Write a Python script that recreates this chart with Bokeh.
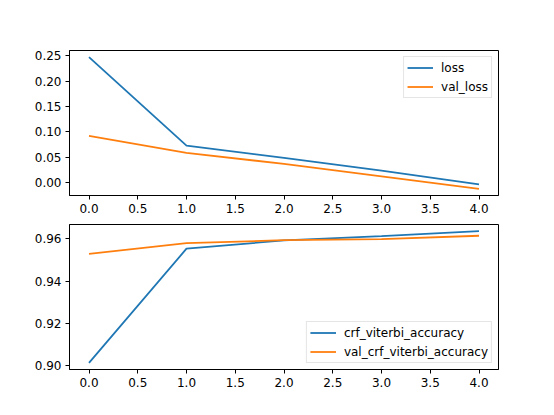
from bokeh.plotting import figure
from bokeh.layouts import column
from bokeh.models import Range1d, FixedTicker, NumeralTickFormatter, Legend, LegendItem
from bokeh.embed import file_html
from bokeh.resources import INLINE

# ---- data ----
epochs = [0, 1, 2, 3, 4]
loss = [0.247, 0.073, 0.049, 0.024, -0.003]
val_loss = [0.092, 0.059, 0.037, 0.0125, -0.012]
crf_viterbi_accuracy = [0.9014, 0.9553, 0.9592, 0.9612, 0.9636]
val_crf_viterbi_accuracy = [0.9528, 0.9579, 0.9593, 0.9598, 0.9614]

x_ticks = [0.0, 0.5, 1.0, 1.5, 2.0, 2.5, 3.0, 3.5, 4.0]
top_y_ticks = [0.00, 0.05, 0.10, 0.15, 0.20, 0.25]
bottom_y_ticks = [0.90, 0.92, 0.94, 0.96]

BLUE = "#1f77b4"
ORANGE = "#ff7f0e"
FONT = "DejaVu Sans"


def padded(*series):
    vals = [v for s in series for v in s]
    lo, hi = min(vals), max(vals)
    m = (hi - lo) * 0.05
    return Range1d(lo - m, hi + m)


def make_fig(ys, names, yticks, legend_loc, border_top, border_bottom):
    p = figure(frame_width=429, frame_height=145,
               min_border_left=69, min_border_right=47,
               min_border_top=border_top, min_border_bottom=border_bottom,
               x_range=padded(epochs), y_range=padded(*ys),
               output_backend="svg", toolbar_location=None)
    p.xgrid.visible = False
    p.ygrid.visible = False
    p.outline_line_color = "black"
    p.outline_line_alpha = 1
    p.outline_line_width = 1
    p.background_fill_color = "white"
    p.border_fill_color = "white"

    p.xaxis.ticker = FixedTicker(ticks=x_ticks)
    p.xaxis.formatter = NumeralTickFormatter(format="0.0")
    p.yaxis.ticker = FixedTicker(ticks=yticks)
    p.yaxis.formatter = NumeralTickFormatter(format="0.00")
    for ax in (p.xaxis, p.yaxis):
        ax.axis_line_color = "black"
        ax.axis_line_width = 1
        ax.major_tick_line_color = "black"
        ax.major_tick_line_width = 1
        ax.major_tick_out = 4
        ax.major_tick_in = 0
        ax.minor_tick_line_color = None
        ax.major_label_text_font = FONT
        ax.major_label_text_font_size = "12px"
        ax.major_label_text_color = "black"
        ax.major_label_standoff = 4

    items = []
    for y, name, c in zip(ys, names, [BLUE, ORANGE]):
        r = p.line(epochs, y, line_color=c, line_width=1.8)
        items.append(LegendItem(label=name, renderers=[r]))
    leg = Legend(items=items, location=legend_loc)
    leg.label_text_font = FONT
    leg.label_text_font_size = "12px"
    leg.label_text_color = "black"
    leg.glyph_width = 26
    leg.glyph_height = 15
    leg.label_height = 15
    leg.label_standoff = 8
    leg.spacing = 4
    leg.padding = 3
    leg.margin = 6
    leg.border_line_color = "#cccccc"
    leg.border_line_width = 1
    leg.background_fill_color = "white"
    leg.background_fill_alpha = 0.8
    p.add_layout(leg)
    return p


p1 = make_fig([loss, val_loss], ["loss", "val_loss"], top_y_ticks, "top_right", 50, 22)
p2 = make_fig([crf_viterbi_accuracy, val_crf_viterbi_accuracy],
              ["crf_viterbi_accuracy", "val_crf_viterbi_accuracy"],
              bottom_y_ticks, "bottom_right", 7, 30)

layout = column(p1, p2, spacing=0)
open("out.html", "w").write(file_html(layout, INLINE))
